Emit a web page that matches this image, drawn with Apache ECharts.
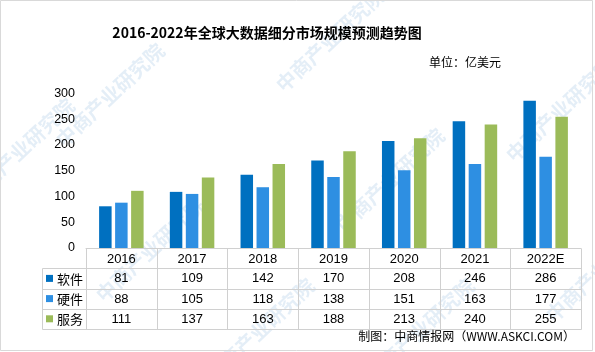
<!DOCTYPE html>
<html>
<head>
<meta charset="utf-8">
<script src="https://cdn.jsdelivr.net/npm/echarts@6/dist/echarts.min.js"></script>
<style>html,body{margin:0;padding:0;background:#fff;}#c{width:595px;height:352px;}</style>
</head>
<body>
<div id="c"></div>
<script>
const categories = ['2016','2017','2018','2019','2020','2021','2022E'];
const seriesNames = ['软件','硬件','服务'];
const software = [81,109,142,170,208,246,286];
const hardware = [88,105,118,138,151,163,177];
const services = [111,137,163,188,213,240,255];
const colors = ['#0070C0','#2E8FE2','#9BBB59'];
const titleText = '2016-2022年全球大数据细分市场规模预测趋势图';
const unitText = '单位：亿美元';
const sourceText = '制图：中商情报网（WWW.ASKCI.COM）';
const watermark = '中商产业研究院';

const FONT = '"SimSun","Noto Sans CJK SC",sans-serif';
const NUMFONT = '"SimSun","Liberation Sans","Noto Sans CJK SC",sans-serif';
const chart = echarts.init(document.getElementById('c'), null, {renderer:'canvas'});
const allData = [software, hardware, services];

const option = {
  animation: false,
  backgroundColor: '#fff',
  grid: {left: 86, right: 14, top: 93.5, bottom: 104, containLabel: false},
  xAxis: {
    type: 'category', data: categories,
    axisLine: {lineStyle: {color: '#d0d0d0', width: 1}},
    axisTick: {show: false},
    axisLabel: {color: '#000', fontSize: 13, fontFamily: NUMFONT, margin: 5}
  },
  yAxis: {
    type: 'value', min: 0, max: 300, interval: 50,
    axisLine: {show: false}, axisTick: {show: false}, splitLine: {show: false},
    axisLabel: {color: '#000', fontSize: 12.5, fontFamily: NUMFONT, margin: 11}
  },
  series: allData.map((d, i) => ({
    name: seriesNames[i], type: 'bar', data: d,
    barWidth: 12.5, barGap: '28%',
    itemStyle: {color: colors[i]}
  }))
};
chart.setOption(option);

const g = [];
const axisY = chart.convertToPixel({yAxisIndex: 0}, 0);
const c0 = chart.convertToPixel({xAxisIndex: 0}, 0);
const c1 = chart.convertToPixel({xAxisIndex: 0}, 1);
const band = c1 - c0;
const leftX = c0 - band / 2;
const rightX = chart.convertToPixel({xAxisIndex: 0}, categories.length - 1) + band / 2;
const legendX = 41.5;
const rowH = 20.2;
const headerH = 20.3;
const lineColor = '#d0d0d0';
const rowTops = [axisY + headerH, axisY + headerH + rowH, axisY + headerH + 2 * rowH];
const tableBottom = axisY + headerH + 3 * rowH;

function line(x1, y1, x2, y2) {
  g.push({type: 'line', silent: true, z: 1,
    shape: {x1: Math.round(x1) + 0.5, y1: Math.round(y1) + 0.5, x2: Math.round(x2) + 0.5, y2: Math.round(y2) + 0.5},
    style: {stroke: lineColor, lineWidth: 1}});
}
for (let i = 0; i <= categories.length; i++) {
  line(leftX + i * band, axisY, leftX + i * band, tableBottom);
}
line(legendX, rowTops[0], legendX, tableBottom);
rowTops.concat([tableBottom]).forEach(y => line(legendX, y, rightX, y));

allData.forEach((d, r) => {
  const cy = rowTops[r] + rowH / 2;
  g.push({type: 'rect', silent: true, z: 5, shape: {x: 46, y: cy - 3.5, width: 7, height: 7}, style: {fill: colors[r]}});
  g.push({type: 'text', silent: true, z: 5, style: {x: 57, y: cy + 0.5, text: seriesNames[r], fill: '#000',
    font: '13px ' + FONT, textAlign: 'left', textVerticalAlign: 'middle'}});
  d.forEach((v, i) => {
    const cx = chart.convertToPixel({xAxisIndex: 0}, i);
    g.push({type: 'text', silent: true, z: 5, style: {x: cx, y: cy + 0.5, text: String(v), fill: '#000',
      font: '13px ' + NUMFONT, textAlign: 'center', textVerticalAlign: 'middle'}});
  });
});

g.push({type: 'text', silent: true, z: 5, style: {x: 267, y: 33, text: titleText, fill: '#000',
  font: 'bold 14px ' + FONT, textAlign: 'center', textVerticalAlign: 'middle'}});
g.push({type: 'text', silent: true, z: 5, style: {x: 501, y: 62, text: unitText, fill: '#000',
  font: '12px ' + FONT, textAlign: 'right', textVerticalAlign: 'middle'}});
g.push({type: 'text', silent: true, z: 5, style: {x: 575, y: 336, text: sourceText, fill: '#000',
  font: '12px ' + FONT, textAlign: 'right', textVerticalAlign: 'middle'}});

const wmPos = [[110, 95], [330, 40], [560, 110], [150, 250], [390, 180], [20, 150], [600, 270], [260, 330], [420, 330]];
wmPos.forEach(p => {
  g.push({type: 'text', silent: true, z: 0, x: p[0], y: p[1], rotation: Math.PI * 0.24,
    style: {x: 0, y: 0, text: watermark, fill: 'rgba(120,170,215,0.2)', font: 'bold 20px "Noto Sans CJK SC",sans-serif',
      textAlign: 'center', textVerticalAlign: 'middle'}});
});

g.push({type: 'rect', silent: true, z: 6, shape: {x: 0.5, y: 0.5, width: 592, height: 350},
  style: {fill: 'none', stroke: '#d9d9d9', lineWidth: 1}});

chart.setOption({graphic: {elements: g}});
</script>
</body>
</html>
